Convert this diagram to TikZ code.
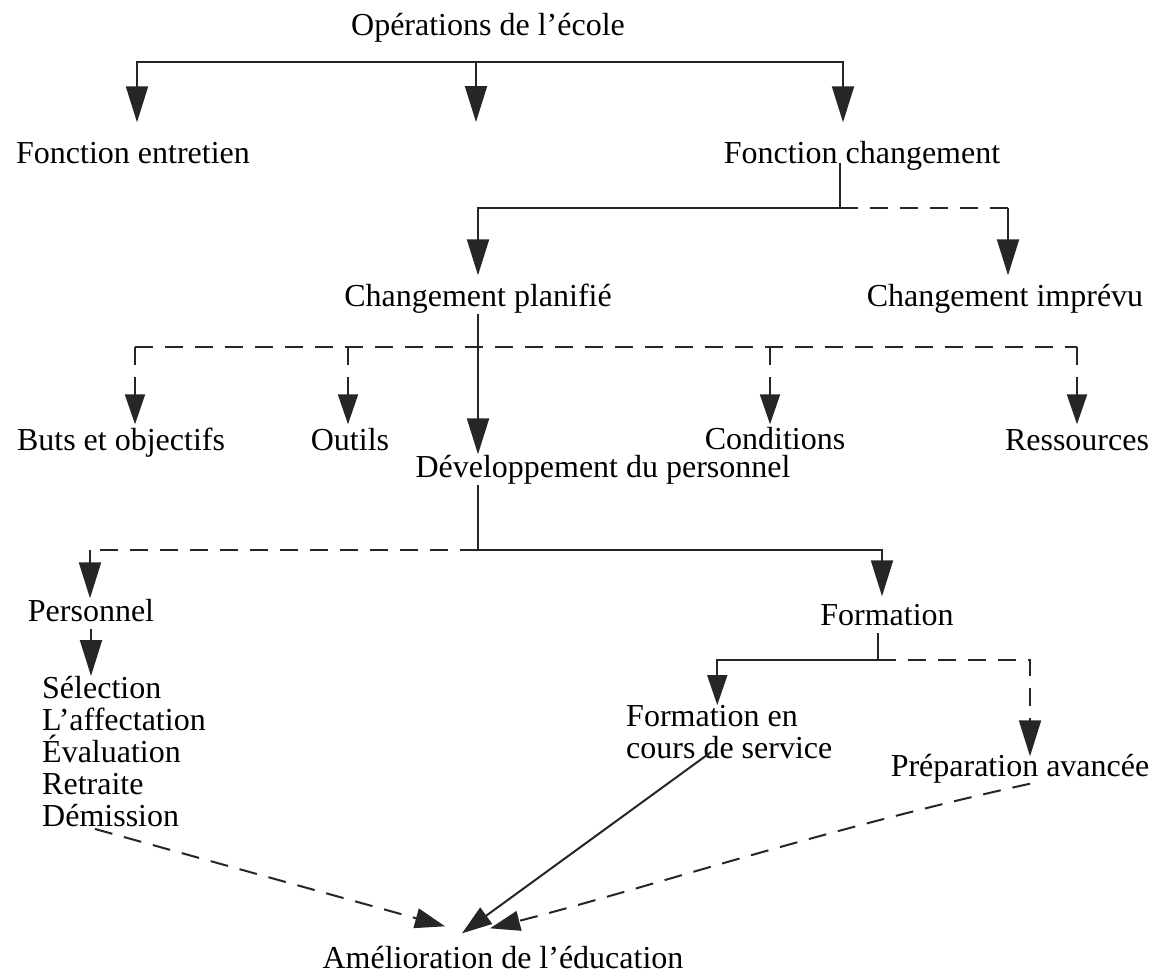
\documentclass[tikz,border=0pt]{standalone}
\usepackage{fontspec}
\setmainfont{Liberation Serif}
\usetikzlibrary{arrows.meta}
\begin{document}
\begin{tikzpicture}[x=1pt,y=-1pt,
  lbl/.style={inner sep=0pt,font=\fontsize{32}{32}\selectfont,text height=22.5pt,text depth=7.5pt,anchor=base},
  blk/.style={inner sep=0pt,font=\fontsize{32}{32}\selectfont,align=left,anchor=north west},
  ln/.style={line width=2pt,draw=black!85},
  dsh/.style={ln,dash pattern=on 18pt off 12pt},
  tip/.style={-{Triangle[length=36pt,width=22pt]}},
  stip/.style={-{Triangle[length=30pt,width=20pt]}}]
\fill[white] (0,0) rectangle (1155,977);
\useasboundingbox (0,0) rectangle (1155,977);

% --- top level
\node[lbl] (ops) at (488,35) {Opérations de l'école};
\coordinate (b1) at (476,62);
\coordinate (mid) at (476,122);
\node[lbl] (fe) at (133,163) {Fonction entretien};
\node[lbl] (fc) at (862,163) {Fonction changement};
\draw[ln,tip] (b1) -| ([xshift=4pt,yshift=18pt]fe.north);
\draw[ln,tip] (b1) -| ([xshift=-19pt,yshift=18pt]fc.north);
\draw[ln,tip] (b1) -- (mid);

% --- change function
\coordinate (b2) at (840,208);
\coordinate (b2r) at (1008,208);
\node[lbl] (cp) at (478,306) {Changement planifié};
\node[lbl] (ci) at (1005,306) {Changement imprévu};
\draw[ln] ([xshift=-22pt]fc.base) -- (b2);
\draw[ln,tip] (b2) -| ([yshift=8pt]cp.north);
\draw[dsh] (b2) -- (b2r);
\draw[ln,tip] (b2r) -- ([xshift=3pt,yshift=8pt]ci.north);

% --- planned change
\node[lbl] (bo) at (121,450) {Buts et objectifs};
\node[lbl] (ou) at (350,450) {Outils};
\node[lbl,text depth=2pt] (co) at (775,449) {Conditions};
\node[lbl] (re) at (1077,450) {Ressources};
\node[lbl] (dp) at (603,477) {Développement du personnel};
\coordinate (d1) at (135,347);
\coordinate (d2) at (348,347);
\coordinate (d3) at (770,347);
\coordinate (d4) at (1077,347);
\draw[dsh] (d1) -- (d4);
\draw[dsh,stip] (d1) -- ([xshift=14pt,yshift=3pt]bo.north);
\draw[dsh,stip] (d2) -- ([xshift=-2pt,yshift=3pt]ou.north);
\draw[dsh,stip] (d3) -- ([xshift=-5pt,yshift=2pt]co.north);
\draw[dsh,stip] (d4) -- ([yshift=3pt]re.north);
\draw[ln,tip] (cp.south) -- ([xshift=-125pt]dp.north);

% --- staff development
\coordinate (b4) at (478,550);
\coordinate (b4l) at (90,550);
\node[lbl] (pe) at (91,621) {Personnel};
\node[lbl] (fo) at (887,625) {Formation};
\draw[ln] ([xshift=-125pt]dp.south) -- (b4);
\draw[dsh] (b4) -- (b4l);
\draw[ln,tip] (b4l) -- ([xshift=-1pt]pe.north);
\draw[ln,tip] (b4) -| ([xshift=-5pt,yshift=6pt]fo.north);

\node[blk] (li) at (42,676) {Sélection\\L'affectation\\Évaluation\\Retraite\\Démission};
\draw[ln,tip] (pe.south) -- (pe.south |- li.north);

% --- training
\coordinate (b5) at (878,660);
\node[blk] (fcs) at (626,705) {Formation en\\cours de service};
\node[lbl] (pa) at (1020,776) {Préparation avancée};
\draw[ln] ([xshift=-9pt]fo.south) -- (b5);
\draw[ln,stip] (b5) -| ([xshift=-12pt]fcs.north);
\draw[dsh,tip] (b5) -| ([xshift=10pt,yshift=-3pt]pa.north);

% --- outcome
\node[lbl] (am) at (503,968) {Amélioration de l'éducation};
\draw[dsh,stip] ([xshift=53pt,yshift=-2pt]li.south west) -- ([xshift=-58pt,yshift=19pt]am.north);
\draw[ln,stip] ([xshift=-18pt,yshift=7pt]fcs.south) -- ([xshift=-41pt,yshift=12pt]am.north);
\draw[dsh,stip] ([xshift=10pt]pa.south) .. controls (820,830) and (640,890) .. ([xshift=-13pt,yshift=17pt]am.north);
\end{tikzpicture}
\end{document}
